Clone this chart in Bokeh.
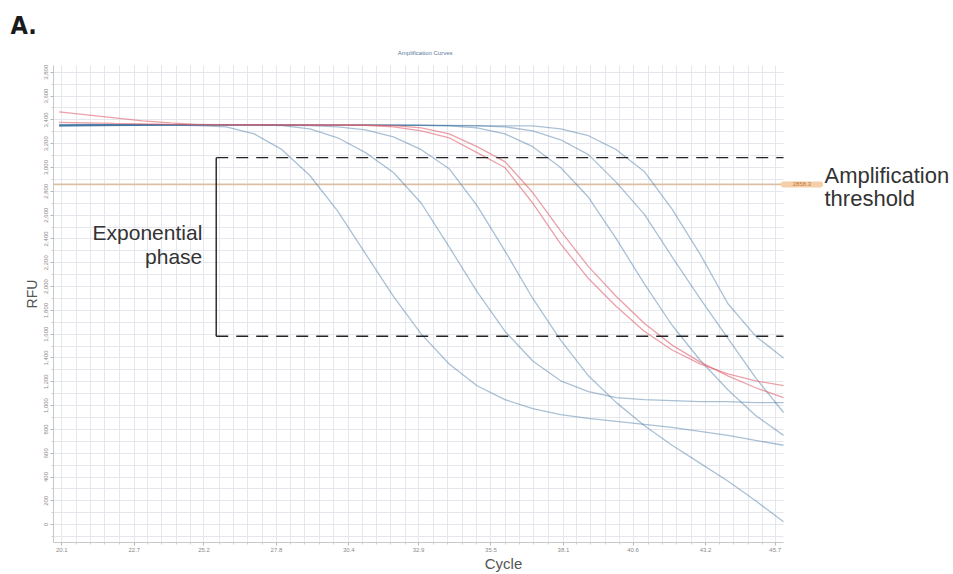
import numpy as np
from bokeh.plotting import figure
from bokeh.models import (Range1d, Label, FixedTicker, PrintfTickFormatter, NumeralTickFormatter,
                          BoxAnnotation, Title)
from bokeh.embed import file_html
from bokeh.resources import INLINE

# ---------------- data ----------------
cycles = list(range(20, 47))

curve_b1 = [3360, 3362, 3360, 3358, 3356, 3352, 3342, 3283, 3150, 2933, 2633, 2275, 1917, 1600,
            1350, 1167, 1050, 975, 925, 892, 867, 842, 817, 783, 750, 708, 667]
curve_b2 = [3355, 3357, 3358, 3360, 3358, 3356, 3357, 3358, 3352, 3325, 3250, 3125, 2958, 2700,
            2333, 1958, 1625, 1375, 1208, 1117, 1067, 1050, 1042, 1033, 1033, 1025, 1025]
curve_b3 = [3358, 3360, 3358, 3357, 3360, 3358, 3356, 3358, 3355, 3352, 3342, 3317, 3258, 3150,
            2990, 2680, 2300, 1900, 1550, 1250, 1025, 833, 667, 517, 367, 200, 25]
curve_r1 = [3467, 3442, 3417, 3392, 3375, 3360, 3358, 3360, 3358, 3357, 3356, 3355, 3342, 3308,
            3250, 3125, 3000, 2700, 2358, 2067, 1833, 1625, 1467, 1350, 1267, 1208, 1167]
curve_r2 = [3380, 3375, 3370, 3366, 3362, 3360, 3358, 3357, 3358, 3356, 3357, 3355, 3352, 3333,
            3283, 3175, 3050, 2790, 2467, 2167, 1917, 1692, 1508, 1367, 1250, 1150, 1067]
curve_b4 = [3352, 3355, 3357, 3358, 3360, 3362, 3360, 3358, 3357, 3358, 3356, 3355, 3356, 3354,
            3350, 3333, 3283, 3175, 3000, 2750, 2400, 2025, 1675, 1383, 1133, 917, 750]
curve_b5 = [3350, 3352, 3355, 3357, 3358, 3360, 3358, 3357, 3358, 3356, 3357, 3355, 3356, 3354,
            3352, 3350, 3342, 3308, 3233, 3108, 2875, 2608, 2250, 1900, 1567, 1233, 942]
curve_b6 = [3348, 3350, 3352, 3354, 3356, 3358, 3360, 3358, 3357, 3358, 3356, 3357, 3355, 3356,
            3354, 3352, 3350, 3350, 3325, 3267, 3150, 2967, 2650, 2275, 1858, 1583, 1400]

blue_curves = [curve_b1, curve_b2, curve_b3, curve_b4, curve_b5, curve_b6]
red_curves = [curve_r1, curve_r2]

threshold = 2858.3
threshold_text = "2858.3"
phase_cycle = 25.64
phase_top = 3083
phase_bottom = 1583

x_ticks = [20.1, 22.7, 25.2, 27.8, 30.4, 32.9, 35.5, 38.1, 40.6, 43.2, 45.7]
y_ticks = list(range(0, 3801, 200))
x_end = 46.0
y_top = 3858

# ---------------- figure ----------------
p = figure(width=953, height=574, output_backend="svg", toolbar_location=None, title=None,
           x_range=Range1d(19.8, 52.10), y_range=Range1d(-150, 4025),
           min_border_left=53, min_border_right=0, min_border_top=45, min_border_bottom=28)
p.outline_line_color = None

minor_x = [v for v in np.arange(19.587, 46.01, 0.5132) if min(abs(v - t) for t in x_ticks) > 0.1]
minor_y = [v for v in range(-100, 3858, 100) if v % 200 != 0]
xt = FixedTicker(ticks=x_ticks, minor_ticks=minor_x)
yt = FixedTicker(ticks=y_ticks, minor_ticks=minor_y)
p.xaxis.ticker = xt
p.yaxis.ticker = yt
p.xgrid.ticker = xt
p.ygrid.ticker = yt

grid_col = "#e6e6ed"
for g in (p.xgrid[0], p.ygrid[0]):
    g.grid_line_color = grid_col
    g.minor_grid_line_color = grid_col

# white covers so that the grid stops at the plot area's edges
p.add_layout(BoxAnnotation(left=x_end, fill_color="white", fill_alpha=1.0, line_alpha=0, level="underlay"))
p.add_layout(BoxAnnotation(bottom=y_top, fill_color="white", fill_alpha=1.0, line_alpha=0, level="underlay"))

for ax in (p.xaxis[0], p.yaxis[0]):
    ax.axis_line_color = "#c8c8c8"
    ax.major_tick_line_color = "#b8b8b8"
    ax.minor_tick_line_color = "#cfcfcf"
    ax.major_tick_out = 3
    ax.major_tick_in = 0
    ax.minor_tick_out = 2
    ax.minor_tick_in = 0
    ax.major_label_text_font_size = "6px"
    ax.major_label_text_color = "#8a8a8a"
    ax.major_label_text_font = "Liberation Sans"
    ax.major_label_standoff = 2
    ax.axis_label_text_font = "Liberation Sans"
    ax.axis_label_text_font_style = "normal"
    ax.axis_label_text_color = "#555555"

p.xaxis.bounds = (19.8, x_end)
p.yaxis.bounds = (-150, y_top)
p.xaxis.formatter = PrintfTickFormatter(format="%.1f")
p.yaxis.formatter = NumeralTickFormatter(format="0,0")
p.yaxis.major_label_orientation = "vertical"
p.xaxis.axis_label = "Cycle"
p.xaxis.axis_label_text_font_size = "15px"
p.xaxis.axis_label_standoff = 0
p.yaxis.axis_label = "RFU"
p.yaxis.axis_label_text_font_size = "14px"
p.yaxis.axis_label_standoff = 2

# threshold line (stops at the plot area's edge)
p.segment(x0=[19.8], y0=[threshold], x1=[x_end], y1=[threshold], line_color="#dcbfa3", line_width=1.6)

# curves
for c in blue_curves:
    p.line(cycles, c, line_color="#2a6496", line_alpha=0.4, line_width=1.3)
for c in red_curves:
    p.line(cycles, c, line_color="#e0606e", line_alpha=0.6, line_width=1.3)

# exponential phase bracket
p.segment(x0=[phase_cycle, phase_cycle], y0=[phase_top, phase_bottom],
          x1=[x_end, x_end], y1=[phase_top, phase_bottom],
          line_color="#222222", line_width=1.4, line_dash="12 8")
p.segment(x0=[phase_cycle], y0=[phase_bottom], x1=[phase_cycle], y1=[phase_top],
          line_color="#222222", line_width=1.4)

# threshold badge
p.add_layout(Label(x=46.66, y=threshold, text=threshold_text, text_align="center",
                   text_font_size="6px", text_baseline="middle", text_color="#c07a40",
                   background_fill_color="#f5cfa8",
                   padding=dict(left=12, right=12, top=1, bottom=1), border_radius=3,
                   text_font="Liberation Sans"))

font = "Liberation Sans"
txt = "#333333"
p.add_layout(Label(x=25.14, y=2450, text="Exponential", text_align="right",
                   text_baseline="alphabetic", text_font=font, text_font_size="21px", text_color=txt))
p.add_layout(Label(x=25.14, y=2250, text="phase", text_align="right",
                   text_baseline="alphabetic", text_font=font, text_font_size="21px", text_color=txt))
p.add_layout(Label(x=47.47, y=2936, text="Amplification", text_align="left",
                   text_baseline="alphabetic", text_font=font, text_font_size="22px", text_color=txt))
p.add_layout(Label(x=47.47, y=2742, text="threshold", text_align="left",
                   text_baseline="alphabetic", text_font=font, text_font_size="22px", text_color=txt))

# small chart title inside the frame's top strip
p.add_layout(Label(x=33.14, y=3958, text="Amplification Curves", text_align="center",
                   text_baseline="middle", text_font=font, text_font_size="6px", text_color="#5a7aa0"))

# panel letter
p.add_layout(Title(text="A.", align="left", offset=-43, standoff=12,
                   text_font="'Liberation Sans Narrow', 'DejaVu Sans Condensed', 'Liberation Sans', sans-serif",
                   text_font_style="bold", text_font_size="25px", text_color="#1a1a1a"), "above")

open("out.html", "w").write(file_html(p, INLINE))
